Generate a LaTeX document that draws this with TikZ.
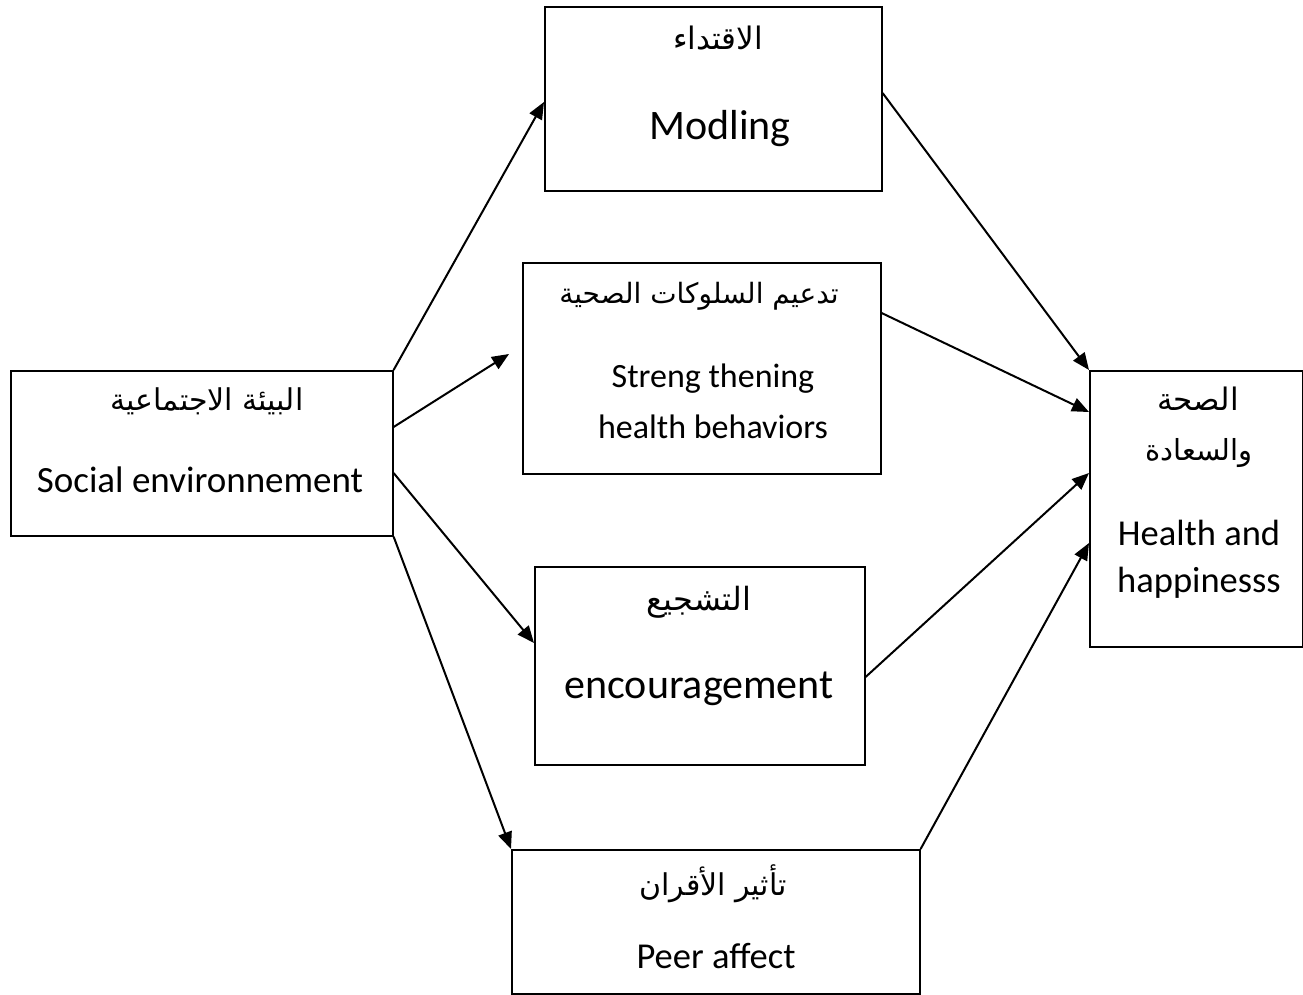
\documentclass[tikz,border=0pt]{standalone}
\usepackage{fontspec}
\setmainfont{Carlito}
\newfontfamily\arabicfont[Script=Arabic]{DejaVu Sans}
\TeXXeTstate=1
\usetikzlibrary{arrows.meta}
\newcommand{\ar}[1]{{\arabicfont\beginR #1\endR}}
\tikzset{
  box/.style={draw, line width=1.6pt, inner sep=0pt, anchor=north west},
  lbl/.style={anchor=base, inner sep=0pt},
  link/.style={line width=2pt, -{Triangle[length=17pt,width=14pt]}},
}
\begin{document}
\begin{tikzpicture}[x=1pt, y=-1pt]
  \useasboundingbox (0,0) rectangle (1303,995);
  \fill[white] (0,0) rectangle (1303,995);

  % boxes
  \node[box, minimum width=382pt, minimum height=165pt] (soc) at (10,370) {};
  \node[box, minimum width=337pt, minimum height=184pt] (mod) at (544,6) {};
  \node[box, minimum width=358pt, minimum height=211pt] (str) at (522,262) {};
  \node[box, minimum width=330pt, minimum height=198pt] (enc) at (534,566) {};
  \node[box, minimum width=408pt, minimum height=144pt] (peer) at (511,849) {};
  \node[box, minimum width=213pt, minimum height=276pt] (hea) at (1089,370) {};

  % labels
  \node[lbl, font=\fontsize{30}{36}\selectfont] (socA) at (207,410) {\ar{البيئة الاجتماعية}};
  \node[lbl, font=\fontsize{37}{44}\selectfont] (socE) at (200,492) {Social environnement};

  \node[lbl, font=\fontsize{31}{36}\selectfont] (modA) at (718,50) {\ar{الاقتداء}};
  \node[lbl, font=\fontsize{42}{50}\selectfont] (modE) at (720,140) {Modling};

  \node[lbl, font=\fontsize{28}{34}\selectfont] (strA) at (699,303) {\ar{تدعيم السلوكات الصحية}};
  \node[lbl, font=\fontsize{34}{40}\selectfont] (strE1) at (713,387) {Streng thening};
  \node[lbl, font=\fontsize{34}{40}\selectfont] (strE2) at (713,438) {health behaviors};

  \node[lbl, font=\fontsize{32}{38}\selectfont] (encA) at (699,610) {\ar{التشجيع}};
  \node[lbl, font=\fontsize{42}{50}\selectfont] (encE) at (699,698) {encouragement};

  \node[lbl, font=\fontsize{30}{36}\selectfont] (peerA) at (713,895) {\ar{تأثير الأقران}};
  \node[lbl, font=\fontsize{36.5}{44}\selectfont] (peerE) at (716,968) {Peer affect};

  \node[lbl, font=\fontsize{31}{36}\selectfont] (heaA1) at (1198,410) {\ar{الصحة}};
  \node[lbl, font=\fontsize{29}{34}\selectfont] (heaA2) at (1199,460) {\ar{والسعادة}};
  \node[lbl, font=\fontsize{36.5}{44}\selectfont] (heaE1) at (1199,545) {Health and};
  \node[lbl, font=\fontsize{36.5}{44}\selectfont] (heaE2) at (1199,592) {happinesss};

  % connectors from the social environment
  \draw[link] (soc.north east) -- ([yshift=-96pt]mod.north west);
  \coordinate (strTip) at ([xshift=-13pt, yshift=-92pt]str.north west);
  \draw[link] ([yshift=-57pt]soc.north east) -- (strTip);
  \draw[link] ([yshift=-103pt]soc.north east) -- ([yshift=-77pt]enc.north west);
  \draw[link] (soc.south east) -- (peer.north west);

  % connectors into health and happiness
  \draw[link] ([yshift=-87pt]mod.north east) -- (hea.north west);
  \draw[link] ([yshift=-51pt]str.north east) -- ([yshift=-42pt]hea.north west);
  \draw[link] ([yshift=-111pt]enc.north east) -- ([yshift=-103pt]hea.north west);
  \draw[link] (peer.north east) -- ([yshift=-173pt]hea.north west);
\end{tikzpicture}
\end{document}
